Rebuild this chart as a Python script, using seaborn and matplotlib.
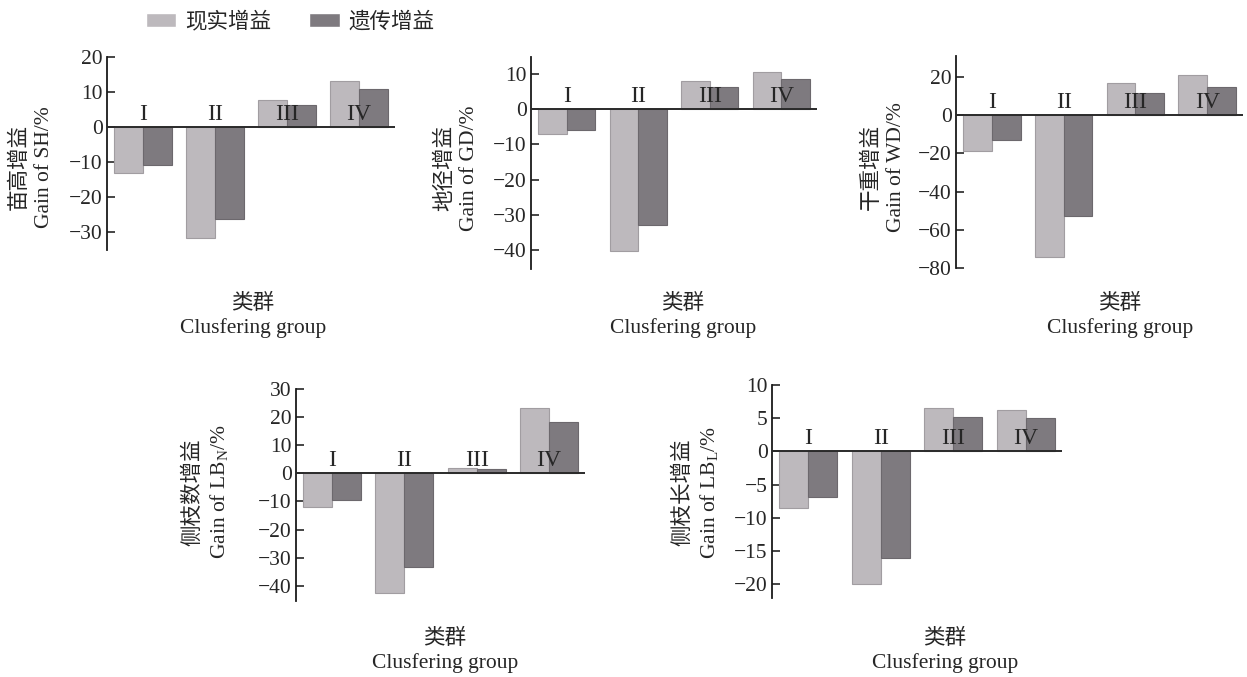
import matplotlib
matplotlib.use("Agg")
import matplotlib.pyplot as plt
import seaborn as sns
import pandas as pd

# data
groups = ["I", "II", "III", "IV"]
series = ["现实增益", "遗传增益"]

sh_real = [-13.1, -31.7, 7.6, 13.2]
sh_gen = [-10.9, -26.3, 6.4, 10.9]
gd_real = [-7.2, -40.2, 7.9, 10.5]
gd_gen = [-5.8, -32.9, 6.4, 8.5]
wd_real = [-18.8, -74.4, 16.7, 20.9]
wd_gen = [-13.2, -52.8, 11.7, 14.6]
lbn_real = [-11.8, -42.7, 1.8, 23.4]
lbn_gen = [-9.4, -33.2, 1.5, 18.3]
lbl_real = [-8.6, -20.0, 6.6, 6.2]
lbl_gen = [-6.9, -16.1, 5.2, 5.0]

ylabels = [
    "苗高增益\nGain of SH/%",
    "地径增益\nGain of GD/%",
    "干重增益\nGain of WD/%",
    "侧枝数增益\nGain of LB$_\\mathrm{N}$/%",
    "侧枝长增益\nGain of LB$_\\mathrm{L}$/%",
]
yticks = [
    [-30, -20, -10, 0, 10, 20],
    [-40, -30, -20, -10, 0, 10],
    [-80, -60, -40, -20, 0, 20],
    [-40, -30, -20, -10, 0, 10, 20, 30],
    [-20, -15, -10, -5, 0, 5, 10],
]
ylims = [(-35.2, 20), (-45.4, 14.8), (-80, 31), (-45.4, 30), (-22.1, 10)]
xlabel = "类群\nClusfering group"

light = "#bdb9bd"
dark = "#7e7a7f"

# layout in pixels (x0, x1, y0, y1) from top-left
W, H = 1247, 677
boxes = [
    (107, 395, 57, 250),
    (531, 817, 57, 269),
    (956, 1243, 56, 268),
    (296, 585, 389, 601),
    (772, 1062, 385, 598),
]
ylab_pos = [(32, 167), (457, 168), (884, 167), (207, 492), (697, 492)]
xlab_pos = [(253, 316), (683, 316), (1120, 316), (445, 651), (945, 651)]

sns.set_style("white")
plt.rcParams["font.family"] = ["Liberation Serif", "Noto Sans CJK SC"]
plt.rcParams["mathtext.fontset"] = "custom"
plt.rcParams["mathtext.rm"] = "Liberation Serif"
plt.rcParams["font.size"] = 15

fig = plt.figure(figsize=(W / 100, H / 100), dpi=100)

panels = [
    (sh_real, sh_gen),
    (gd_real, gd_gen),
    (wd_real, wd_gen),
    (lbn_real, lbn_gen),
    (lbl_real, lbl_gen),
]

handles = None
for i, (real, gen) in enumerate(panels):
    x0, x1, y0, y1 = boxes[i]
    ax = fig.add_axes([x0 / W, 1 - y1 / H, (x1 - x0) / W, (y1 - y0) / H])
    df = pd.DataFrame({
        "group": groups * 2,
        "value": real + gen,
        "series": [series[0]] * 4 + [series[1]] * 4,
    })
    sns.barplot(data=df, x="group", y="value", hue="series", hue_order=series,
                palette=[light, dark], saturation=1, width=0.8, ax=ax)
    for cont, ec in zip(ax.containers, ["#a19da1", "#6c686d"]):
        for p in cont:
            p.set_edgecolor(ec)
            p.set_linewidth(0.8)
    if handles is None:
        handles, labels = ax.get_legend_handles_labels()
    if ax.get_legend() is not None:
        ax.get_legend().remove()

    ax.set_xlim(-0.5, 3.5)
    ax.set_ylim(*ylims[i])
    ax.set_yticks(yticks[i])
    ax.set_xticks([])
    ax.set_xlabel("")
    ax.set_ylabel("")
    ax.axhline(0, color="#2a2a2a", lw=1.4, zorder=5)
    for s in ["top", "right", "bottom"]:
        ax.spines[s].set_visible(False)
    ax.spines["left"].set_color("#1a1a1a")
    ax.spines["left"].set_linewidth(1.3)
    ax.tick_params(axis="y", direction="in", length=6, width=1.2,
                   labelsize=15.5, pad=3, left=True)
    for j, g in enumerate(groups):
        ax.annotate(g, (j, 0), xytext=(0, 1.5), textcoords="offset points",
                    ha="center", va="bottom", fontsize=17, zorder=6)

    fig.text(ylab_pos[i][0] / W, 1 - ylab_pos[i][1] / H, ylabels[i],
             rotation=90, ha="center", va="center", ma="center",
             fontsize=15.5, linespacing=1.35)
    fig.text(xlab_pos[i][0] / W, 1 - xlab_pos[i][1] / H, xlabel,
             ha="center", va="center", ma="center", fontsize=15.5,
             linespacing=1.3)

fig.legend(handles, series, loc="center", bbox_to_anchor=(290 / W, 1 - 22 / H),
           ncol=2, frameon=False, fontsize=15.5, handlelength=1.4,
           handleheight=0.67, handletextpad=0.4, columnspacing=1.8)

plt.savefig("out.png", dpi=100)
